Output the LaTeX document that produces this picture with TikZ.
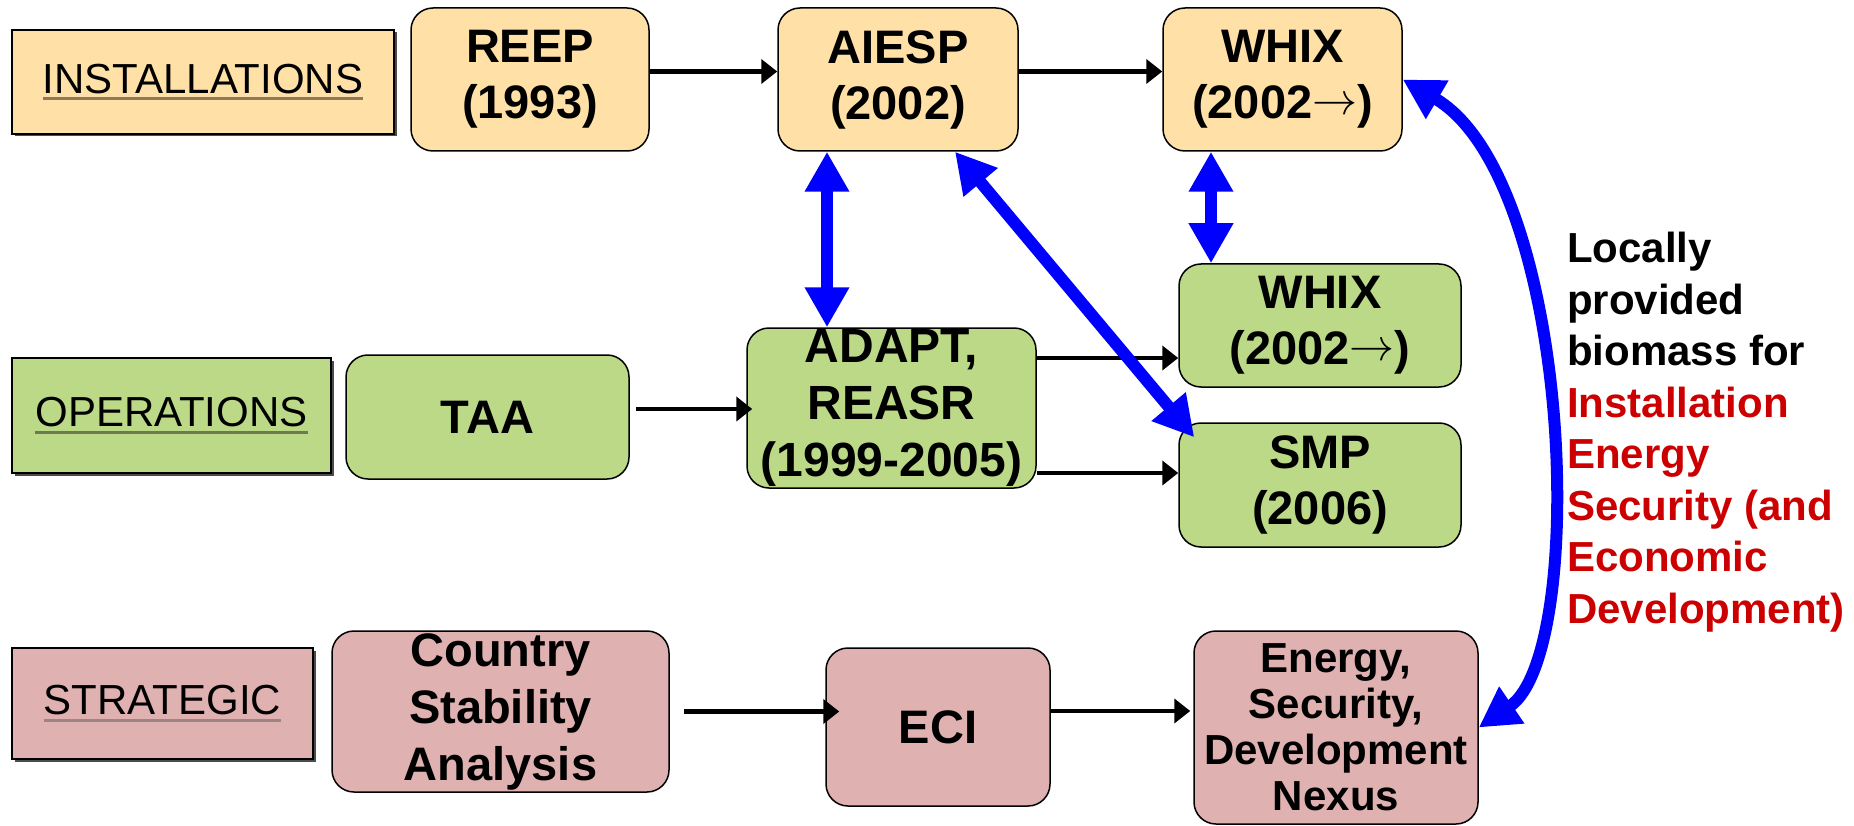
\documentclass[tikz,border=0pt]{standalone}
\usepackage{fontspec}
\setmainfont{Liberation Sans}
\usetikzlibrary{arrows.meta,shadows}
\definecolor{instfill}{HTML}{FFE1A8}
\definecolor{opsfill}{HTML}{BBD987}
\definecolor{stratfill}{HTML}{DFB1B0}
\definecolor{instul}{HTML}{8C7B5A}
\definecolor{opsul}{HTML}{6B7A4F}
\definecolor{stratul}{HTML}{A08383}
\definecolor{darkred}{HTML}{CC0000}
\definecolor{arrowblue}{HTML}{0000FF}
\newcommand{\rowlabel}[2]{\setbox0\hbox{#2}\rlap{\color{#1}\rule[-7pt]{\wd0}{3pt}}\box0}
\newcommand{\onward}{\raisebox{4pt}{\resizebox{45pt}{!}{$\rightarrow$}}}
\tikzset{
  lab/.style={draw=black, line width=1.5pt, inner sep=0pt,
    drop shadow={shadow xshift=2.5pt, shadow yshift=-2.5pt, fill=black!70, opacity=1},
    font=\fontsize{42}{50}\selectfont},
  rbox/.style={draw=black, line width=1.5pt, rounded corners=22pt, inner sep=0pt,
    align=center, font=\bfseries\fontsize{47}{56}\selectfont},
  blk/.style={line width=4.5pt, -{Triangle[width=24pt,length=16pt]}},
  blu/.style={draw=arrowblue, line width=12pt,
    {Triangle[width=42pt,length=40pt]}-{Triangle[width=42pt,length=40pt]}},
}
\begin{document}
\begin{tikzpicture}[x=1pt,y=-1pt]
\fill[white] (0,0) rectangle (1854,826);
\useasboundingbox (0,0) rectangle (1854,826);

% row labels
\node[lab, fill=instfill, minimum width=382pt, minimum height=104pt] (inst) at (203,82) {\rowlabel{instul}{INSTALLATIONS}};
\node[lab, fill=opsfill, minimum width=319pt, minimum height=115pt] (ops) at (171.5,415.5) {\rowlabel{opsul}{OPERATIONS}};
\node[lab, fill=stratfill, minimum width=301pt, minimum height=111pt] (strat) at (162.5,703.5) {\rowlabel{stratul}{STRATEGIC}};

% installations row
\node[rbox, fill=instfill, minimum width=238pt, minimum height=143pt] (reep) at (530,79.5) {REEP\\(1993)};
\node[rbox, fill=instfill, minimum width=240pt, minimum height=143pt] (aiesp) at (898,79.5) {AIESP\\(2002)};
\node[rbox, fill=instfill, minimum width=239pt, minimum height=143pt] (whixa) at (1282.5,79.5) {WHIX\\(2002\onward)};

% operations row
\node[rbox, fill=opsfill, minimum width=283pt, minimum height=124pt] (taa) at (487.5,417) {TAA};
\node[rbox, fill=opsfill, minimum width=289pt, minimum height=160pt, font=\bfseries\fontsize{48}{57}\selectfont] (adapt) at (891.5,408) {ADAPT,\\REASR\\(1999-2005)};
\node[rbox, fill=opsfill, minimum width=282pt, minimum height=123pt] (whixb) at (1320,325.5) {WHIX\\(2002\onward)};
\node[rbox, fill=opsfill, minimum width=282pt, minimum height=124pt] (smp) at (1320,485) {SMP\\(2006)};

% strategic row
\node[rbox, fill=stratfill, minimum width=337pt, minimum height=161pt, font=\bfseries\fontsize{47}{57}\selectfont] (csa) at (500.5,711.5) {Country\\Stability\\Analysis};
\node[rbox, fill=stratfill, minimum width=224pt, minimum height=158pt] (eci) at (938,727) {ECI};
\node[rbox, fill=stratfill, minimum width=284pt, minimum height=193pt, font=\bfseries\fontsize{42}{46}\selectfont] (nexus) at (1336,727.5) {Energy,\\Security,\\Development\\Nexus};

% side text
\node[anchor=west, align=left, inner sep=0pt, font=\bfseries\fontsize{42}{51.5}\selectfont] (txt) at (1567,432)
  {Locally\\provided\\biomass for\\\textcolor{darkred}{Installation}\\\textcolor{darkred}{Energy}\\\textcolor{darkred}{Security (and}\\\textcolor{darkred}{Economic}\\\textcolor{darkred}{Development)}};

% black arrows
\draw[blk] ([yshift=8pt]reep.east) -- ([yshift=8pt]aiesp.west);
\draw[blk] ([yshift=8pt]aiesp.east) -- ([yshift=8pt]whixa.west);
\draw[blk] ([xshift=6pt,yshift=8pt]taa.east) -- ([xshift=6pt,yshift=8pt]taa.east -| adapt.west);
\draw[blk] ([yshift=50pt]adapt.east) -- ([yshift=50pt]adapt.east -| whixb.west);
\draw[blk] ([yshift=-65pt]adapt.east) -- ([yshift=-65pt]adapt.east -| smp.west);
\draw[blk] ([xshift=14pt]csa.east) -- ([xshift=14pt]csa.east -| eci.west);
\draw[blk] ([yshift=16pt]eci.east) -- ([yshift=16pt,xshift=-3pt]eci.east -| nexus.west);

% blue arrows
\draw[blu] ([xshift=-71pt]aiesp.south) -- ([xshift=-71pt]aiesp.south |- adapt.north);
\draw[blu] ([xshift=57pt]aiesp.south) -- ([xshift=16pt,yshift=-15pt]smp.north west);
\draw[blu] ([xshift=-71.5pt]whixa.south) -- ([xshift=-71.5pt]whixa.south |- whixb.north);
\draw[blu] (whixa.east) .. controls +(170,100) and +(110,-75) .. (nexus.east);
\end{tikzpicture}
\end{document}
